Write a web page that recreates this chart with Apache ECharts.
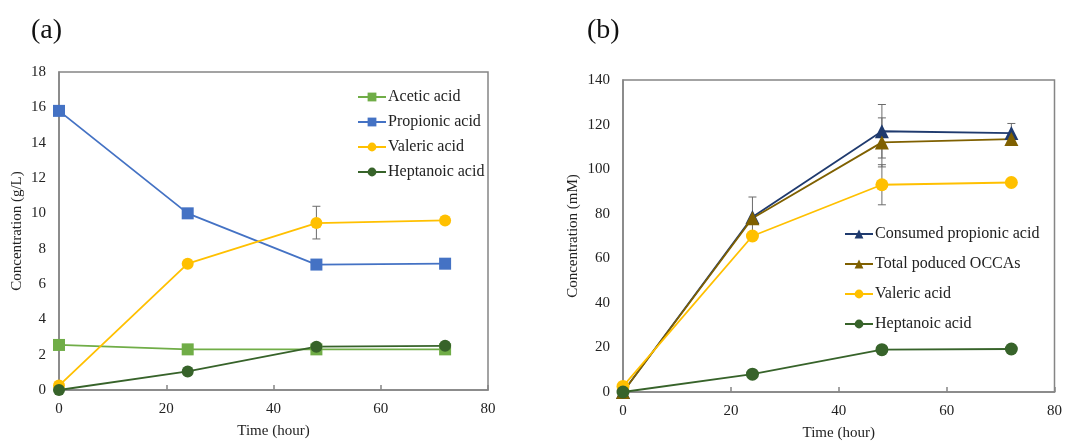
<!DOCTYPE html>
<html>
<head>
<meta charset="utf-8">
<script src="https://cdn.jsdelivr.net/npm/echarts@6/dist/echarts.min.js"></script>
<style>
  html, body { margin: 0; padding: 0; background: #fff; }
  #chart_container { width: 1065px; height: 446px; }
</style>
</head>
<body>
<div id="chart_container"></div>
<script>
// two panels: (a) g/L over time, (b) mM over time

var hours = [0, 24, 48, 72];

// panel (a), g/L
var aceticA     = [2.55, 2.3, 2.3, 2.3];
var propionicA  = [15.8, 10.0, 7.1, 7.15];
var valericA    = [0.25, 7.15, 9.45, 9.6];
var heptanoicA  = [0.0, 1.05, 2.45, 2.5];
// error bars [hour, low, high]
var errA = [
    [48, 8.55, 10.4]
];

// panel (b), mM
var consumedB   = [0, 78.5, 117, 116.2];
var occaB       = [0, 78, 112, 113.5];
var valericB    = [2.5, 70, 93, 94];
var heptanoicB  = [0, 8, 19, 19.3];
var errB = [
    [24, 69.5, 87.5],
    [48, 105, 129],
    [72, 112, 120.5],
    [48, 101, 123],
    [48, 84, 102]
];

var FONT = 'Liberation Serif';
var axisGray = '#858585';

function pairs(ys) {
    return hours.map(function (h, i) { return [h, ys[i]]; });
}

function errorBarItem(params, api) {
    var x = api.value(0);
    var lo = api.coord([x, api.value(1)]);
    var hi = api.coord([x, api.value(2)]);
    var cap = 4;
    var st = { stroke: '#6b6b6b', lineWidth: 1 };
    return {
        type: 'group',
        children: [
            { type: 'line', shape: { x1: hi[0], y1: hi[1], x2: lo[0], y2: lo[1] }, style: st },
            { type: 'line', shape: { x1: hi[0] - cap, y1: hi[1], x2: hi[0] + cap, y2: hi[1] }, style: st },
            { type: 'line', shape: { x1: lo[0] - cap, y1: lo[1], x2: lo[0] + cap, y2: lo[1] }, style: st }
        ]
    };
}

function xAxisCfg(gi) {
    return {
        gridIndex: gi,
        type: 'value',
        min: 0, max: 80, interval: 20,
        name: 'Time (hour)',
        nameLocation: 'middle',
        nameGap: 34,
        nameTextStyle: { fontFamily: FONT, fontSize: 15, color: '#222' },
        axisLine: { show: true, onZero: false, lineStyle: { color: axisGray, width: 1.5 } },
        axisTick: { show: true, inside: true, length: 5, lineStyle: { color: axisGray, width: 1.5 } },
        axisLabel: { fontFamily: FONT, fontSize: 15, color: '#222', margin: 12 },
        splitLine: { show: false }
    };
}

function yAxisCfg(gi, max, step, name, gap) {
    return {
        gridIndex: gi,
        type: 'value',
        min: 0, max: max, interval: step,
        name: name,
        nameLocation: 'middle',
        nameGap: gap,
        nameTextStyle: { fontFamily: FONT, fontSize: 15, color: '#222' },
        axisLine: { show: true, onZero: false, lineStyle: { color: axisGray, width: 1.5 } },
        axisTick: { show: false },
        axisLabel: { fontFamily: FONT, fontSize: 15, color: '#222', margin: 13 },
        splitLine: { show: false }
    };
}

function lineSeries(name, gi, ys, color, symbol, size) {
    return {
        name: name,
        type: 'line',
        xAxisIndex: gi,
        yAxisIndex: gi,
        data: pairs(ys),
        color: color,
        symbol: symbol,
        symbolSize: size,
        showSymbol: true,
        lineStyle: { color: color, width: 1.8 },
        itemStyle: { color: color },
        z: 3
    };
}

var myChart = echarts.init(document.getElementById('chart_container'));

var option = {
    animation: false,
    backgroundColor: '#fff',
    title: [
        { text: '(a)', left: 26, top: 12, textStyle: { fontFamily: FONT, fontSize: 28, fontWeight: 'normal', color: '#111' } },
        { text: '(b)', left: 582, top: 12, textStyle: { fontFamily: FONT, fontSize: 28, fontWeight: 'normal', color: '#111' } }
    ],
    grid: [
        { left: 59, top: 72, width: 429, height: 318, show: true, borderColor: axisGray, borderWidth: 1.5 },
        { left: 623, top: 80, width: 432, height: 318, show: true, borderColor: axisGray, borderWidth: 1.5 }
    ],
    xAxis: [xAxisCfg(0), xAxisCfg(1)],
    yAxis: [
        yAxisCfg(0, 18, 2, 'Concentration (g/L)', 34),
        yAxisCfg(1, 140, 20, 'Concentration (mM)', 42)
    ],
    legend: [
        {
            orient: 'vertical',
            left: 352, top: 84,
            itemWidth: 28, itemHeight: 11, itemGap: 9,
            textStyle: { fontFamily: FONT, fontSize: 16, color: '#222', padding: [0, 0, 0, -3] },
            data: ['Acetic acid', 'Propionic acid', 'Valeric acid', 'Heptanoic acid']
        },
        {
            orient: 'vertical',
            left: 839, top: 221,
            itemWidth: 28, itemHeight: 11, itemGap: 14,
            textStyle: { fontFamily: FONT, fontSize: 16, color: '#222', padding: [0, 0, 0, -3] },
            data: ['Consumed propionic acid', 'Total poduced OCCAs', 'Valeric acid ', 'Heptanoic acid ']
        }
    ],
    series: [
        { type: 'custom', xAxisIndex: 0, yAxisIndex: 0, renderItem: errorBarItem, data: errA, z: 2, silent: true },
        lineSeries('Acetic acid', 0, aceticA, '#70ad47', 'rect', 12),
        lineSeries('Propionic acid', 0, propionicA, '#4472c4', 'rect', 12),
        lineSeries('Valeric acid', 0, valericA, '#ffc000', 'circle', 12),
        lineSeries('Heptanoic acid', 0, heptanoicA, '#37632a', 'circle', 12),

        { type: 'custom', xAxisIndex: 1, yAxisIndex: 1, renderItem: errorBarItem, data: errB, z: 2, silent: true },
        lineSeries('Consumed propionic acid', 1, consumedB, '#1f3a6e', 'triangle', 14),
        lineSeries('Total poduced OCCAs', 1, occaB, '#7f6000', 'triangle', 14),
        lineSeries('Valeric acid ', 1, valericB, '#ffc000', 'circle', 13),
        lineSeries('Heptanoic acid ', 1, heptanoicB, '#37632a', 'circle', 13)
    ]
};

myChart.setOption(option);
</script>
</body>
</html>
